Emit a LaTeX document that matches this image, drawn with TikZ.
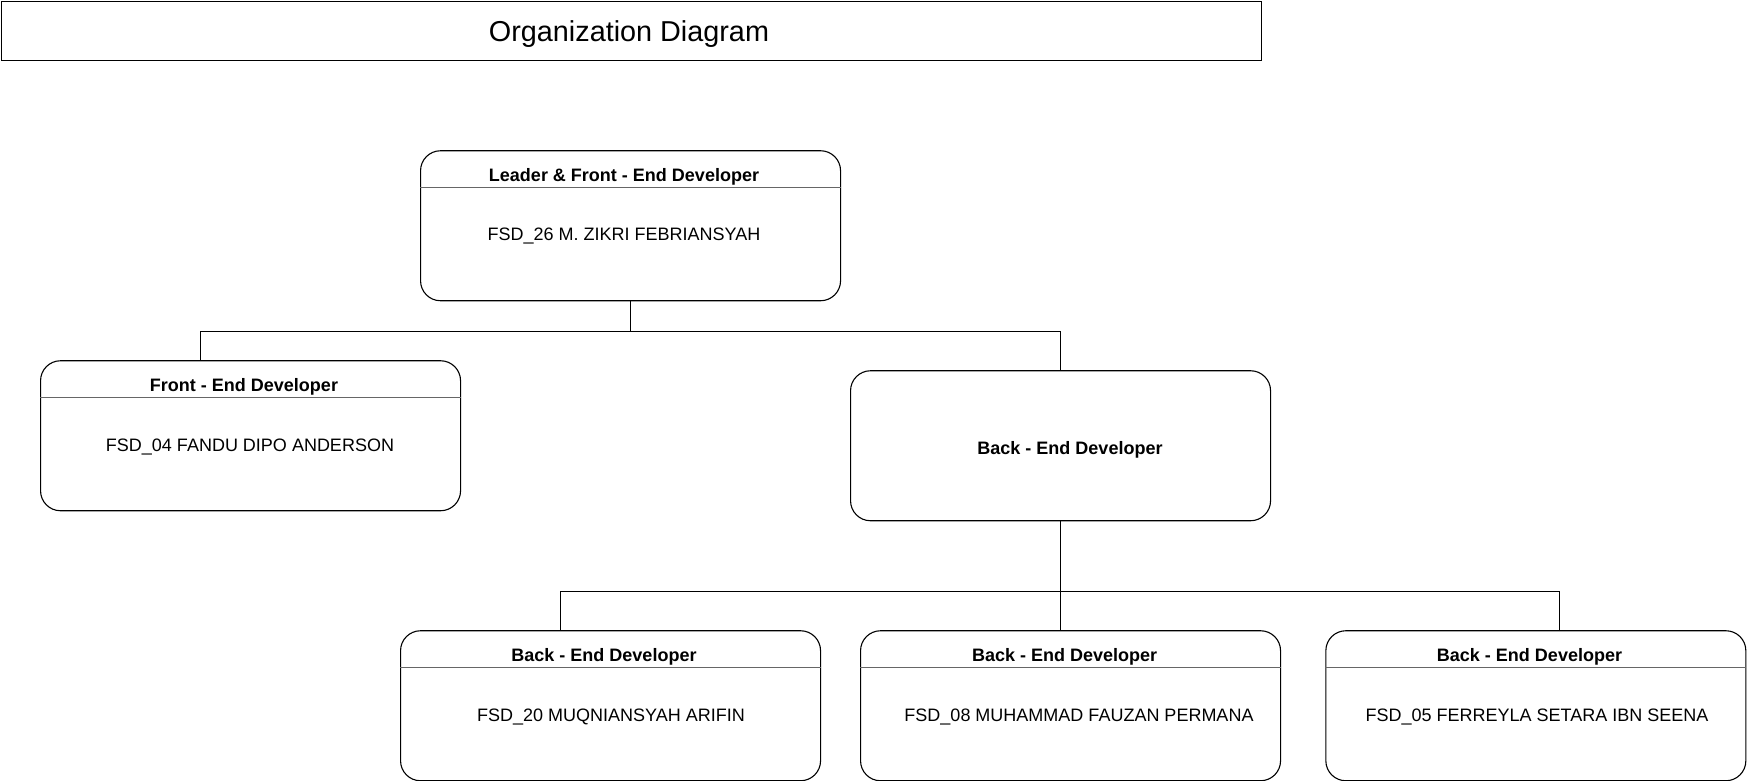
\documentclass[tikz,border=0pt]{standalone}
\usepackage{fontspec}
\setmainfont{Liberation Sans}
\begin{document}
\begin{tikzpicture}[x=1pt,y=-1pt,
  card/.style={draw=black,line width=1.1pt,rounded corners=20pt,minimum width=420pt,minimum height=150pt,inner sep=0pt,anchor=north west},
  sep/.style={draw=black!60,line width=1.4pt},
  head/.style={font=\fontsize{18pt}{20pt}\selectfont\bfseries},
  body/.style={font=\fontsize{18pt}{20pt}\selectfont},
  conn/.style={draw=black,line width=1.1pt}]
\useasboundingbox (0,0) rectangle (1748,781);
% title
\node[draw=black,line width=1.3pt,minimum width=1260pt,minimum height=59pt,inner sep=0pt,anchor=north west] (title) at (0.6,0.6) {};
\node[font=\fontsize{28.8pt}{31pt}\selectfont] (titletext) at (629,34) {Organization Diagram};
% boxes
\node[card] (leader) at (420,150.2) {};
\node[card] (front) at (40,360.2) {};
\node[card] (back) at (850,370.2) {};
\node[card] (b1) at (400,630.2) {};
\node[card] (b2) at (860,630.2) {};
\node[card] (b3) at (1325.3,630.2) {};
% separators
\foreach \n in {leader,front,b1,b2,b3}{
  \draw[sep] ([yshift=-37pt]\n.north west) -- ([yshift=-37pt]\n.north east);
}
% texts
\node[head] (leaderh) at (624,176.5) {Leader \& Front - End Developer};
\node[body] (leaderb) at (624,236.5) {FSD\_26 M. ZIKRI FEBRIANSYAH};
\node[head] (fronth) at (244,387) {Front - End Developer};
\node[body] (frontb) at (250,447.5) {FSD\_04 FANDU DIPO ANDERSON};
\node[head] (backt) at (1070,449.5) {Back - End Developer};
\node[head] (b1h) at (604,656.5) {Back - End Developer};
\node[body] (b1b) at (611,717) {FSD\_20 MUQNIANSYAH ARIFIN};
\node[head] (b2h) at (1064.6,656.5) {Back - End Developer};
\node[body] (b2b) at (1079,717) {FSD\_08 MUHAMMAD FAUZAN PERMANA};
\node[head] (b3h) at (1529.5,656.5) {Back - End Developer};
\node[body] (b3b) at (1537,717) {FSD\_05 FERREYLA SETARA IBN SEENA};
% connectors
\draw[conn] (leader.south) -- ++(0,30) coordinate (j1) -| ([xshift=-50pt]front.north);
\draw[conn] (j1) -| (back.north);
\draw[conn] (back.south) -- ++(0,70) coordinate (j2) -- (j2 |- b2.north);
\draw[conn] (j2) -| ([xshift=-50pt]b1.north);
\draw[conn] (j2) -| ([xshift=24pt]b3.north);
\end{tikzpicture}
\end{document}
